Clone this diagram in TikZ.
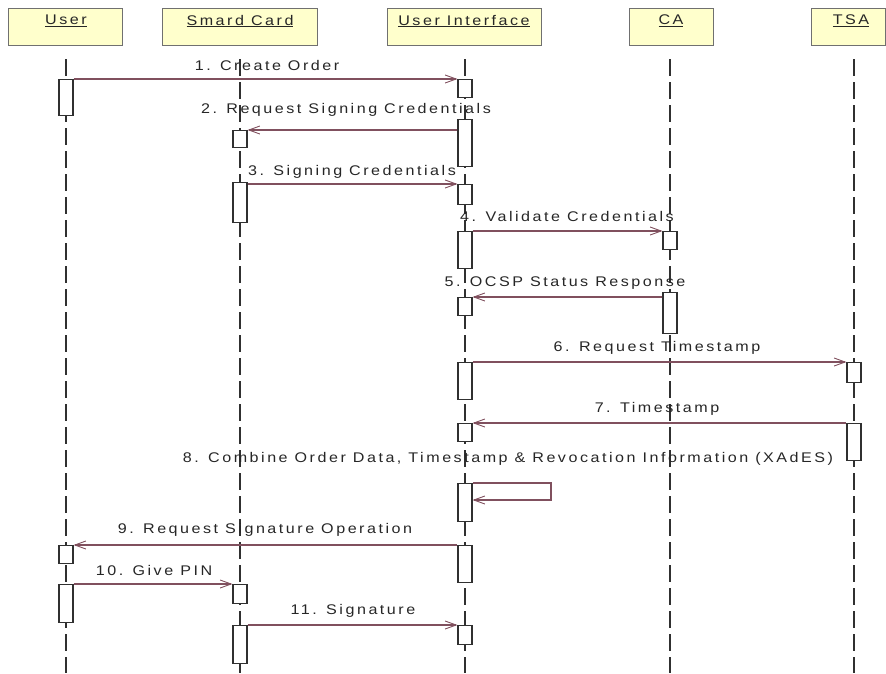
\documentclass[tikz,border=0pt]{standalone}
\usepackage{fontspec}
\setmainfont{Liberation Sans}[LetterSpace=18,FakeStretch=1.15]
\usetikzlibrary{arrows.meta,calc}
\definecolor{hdrfill}{HTML}{FFFFCC}
\definecolor{hdrline}{HTML}{707070}
\definecolor{msgcol}{HTML}{80505E}
\definecolor{lifecol}{HTML}{303030}
\begin{document}
\begin{tikzpicture}[x=1pt,y=-1pt,
  hdr/.style={draw=hdrline,line width=1.2pt,fill=hdrfill,inner sep=0pt,anchor=north west},
  hdrtext/.style={font=\fontsize{14}{16}\selectfont,text=black!85,inner sep=0pt},
  life/.style={draw=lifecol,line width=1.2pt,dash pattern=on 17pt off 6pt},
  act/.style={draw=lifecol,fill=white,line width=1.1pt,minimum width=14pt,inner sep=0pt,anchor=north},
  msg/.style={draw=msgcol,line width=1.1pt,-{Straight Barb[length=11pt,width=8pt,line width=0.9pt]}},
  lbl/.style={font=\fontsize{14}{16}\selectfont,text=black!85,inner sep=0pt}
]
\useasboundingbox (0,0) rectangle (886,673);

% participant headers
\node[hdr,minimum width=114pt,minimum height=37pt] (huser) at (8,8) {};
\node[hdr,minimum width=155pt,minimum height=37pt] (hsc) at (162,8) {};
\node[hdr,minimum width=154pt,minimum height=37pt] (hui) at (387,8) {};
\node[hdr,minimum width=84pt,minimum height=37pt] (hca) at (629,8) {};
\node[hdr,minimum width=74pt,minimum height=37pt] (htsa) at (811,8) {};
\node[hdrtext] (tuser) at (66,21) {\underline{User}};
\node[hdrtext] (tsc) at (240,21) {\underline{Smard Card}};
\node[hdrtext] (tui) at (464,21) {\underline{User Interface}};
\node[hdrtext] (tca) at (671,21) {\underline{CA}};
\node[hdrtext] (ttsa) at (851,21) {\underline{TSA}};

% lifelines
\coordinate (lu0) at (66,59);   \coordinate (lu1) at (66,673);
\coordinate (ls0) at (240,59);  \coordinate (ls1) at (240,673);
\coordinate (li0) at (465,59);  \coordinate (li1) at (465,673);
\coordinate (lc0) at (670,59);  \coordinate (lc1) at (670,673);
\coordinate (lt0) at (854,59);  \coordinate (lt1) at (854,673);
\draw[life] (lu0) -- (lu1);
\draw[life] (ls0) -- (ls1);
\draw[life] (li0) -- (li1);
\draw[life] (lc0) -- (lc1);
\draw[life] (lt0) -- (lt1);

% activation bars
\node[act,minimum height=36pt] (u1) at (66,79) {};
\node[act,minimum height=18pt] (i1) at (465,79) {};
\node[act,minimum height=47pt] (i2) at (465,119) {};
\node[act,minimum height=17pt] (s2) at (240,130) {};
\node[act,minimum height=40pt] (s3) at (240,182) {};
\node[act,minimum height=20pt] (i3) at (465,184) {};
\node[act,minimum height=37pt] (i4) at (465,231) {};
\node[act,minimum height=18pt] (c4) at (670,231) {};
\node[act,minimum height=41pt] (c5) at (670,292) {};
\node[act,minimum height=18pt] (i5) at (465,297) {};
\node[act,minimum height=37pt] (i6) at (465,362) {};
\node[act,minimum height=20pt] (t6) at (854,362) {};
\node[act,minimum height=37pt] (t7) at (854,423) {};
\node[act,minimum height=18pt] (i7) at (465,423) {};
\node[act,minimum height=38pt] (i8) at (465,483) {};
\node[act,minimum height=37pt] (i9) at (465,545) {};
\node[act,minimum height=18pt] (u9) at (66,545) {};
\node[act,minimum height=38pt] (u10) at (66,584) {};
\node[act,minimum height=19pt] (s10) at (240,584) {};
\node[act,minimum height=38pt] (s11) at (240,625) {};
\node[act,minimum height=19pt] (i11) at (465,625) {};

% messages
\draw[msg] (u1.north east) -- (i1.north west);
\node[lbl] (m1) at (267,65) {1. Create Order};

\draw[msg] (s2.north east -| i2.west) -- (s2.north east);
\node[lbl] (m2) at (346,110) {2. Request Signing Credentials};

\draw[msg] (i3.north west -| s3.east) -- (i3.north west);
\node[lbl] (m3) at (352,172) {3. Signing Credentials};

\draw[msg] (i4.north east) -- (c4.north west);
\node[lbl] (m4) at (567,216) {4. Validate Credentials};

\draw[msg] (i5.north east -| c5.west) -- (i5.north east);
\node[lbl] (m5) at (565,283) {5. OCSP Status Response};

\draw[msg] (i6.north east) -- (t6.north west);
\node[lbl] (m6) at (657,348) {6. Request Timestamp};

\draw[msg] (i7.north east -| t7.west) -- (i7.north east);
\node[lbl] (m7) at (657,409) {7. Timestamp};

\coordinate (self1) at (551,483);
\coordinate (self2) at (551,500);
\draw[msg] (i8.north east) -- (self1) -- (self2) -- (self2 -| i8.east);
\node[lbl] (m8) at (508,459) {8. Combine Order Data, Timestamp \& Revocation Information (XAdES)};

\draw[msg] (u9.north east -| i9.west) -- (u9.north east);
\node[lbl] (m9) at (265,530) {9. Request Signature Operation};

\draw[msg] (u10.north east) -- (s10.north west);
\node[lbl] (m10) at (154,570) {10. Give PIN};

\draw[msg] (s11.north east) -- (i11.north west);
\node[lbl] (m11) at (353,611) {11. Signature};
\end{tikzpicture}
\end{document}
